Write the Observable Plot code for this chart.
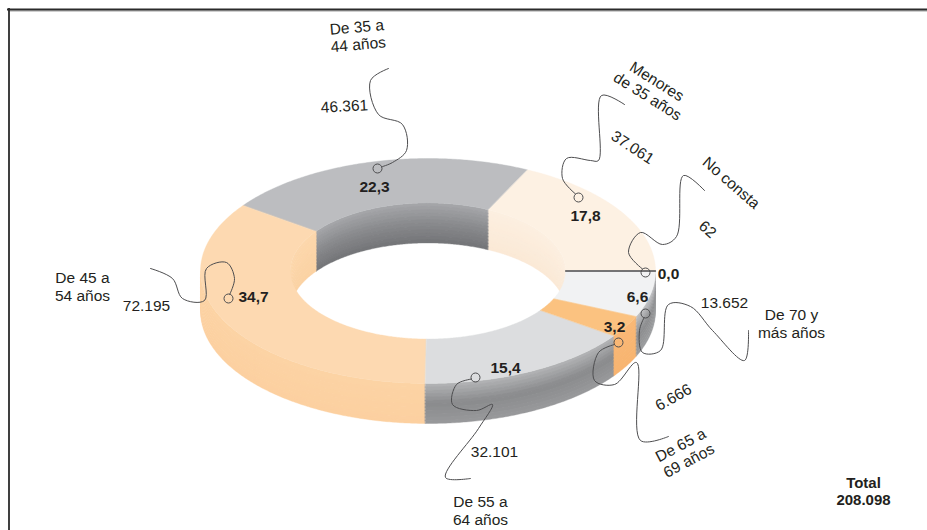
<!DOCTYPE html>
<html><head><meta charset="utf-8">
<script src="https://cdn.jsdelivr.net/npm/d3@7"></script>
<script src="https://cdn.jsdelivr.net/npm/@observablehq/plot@0.6"></script>
<style>body{margin:0;background:#fff}#chart{width:927px;height:530px}</style>
</head><body><div id="chart"></div>
<script>
// ---- data ----
const categories = ["No consta","Menores de 35 años","De 35 a 44 años","De 45 a 54 años","De 55 a 64 años","De 65 a 69 años","De 70 y más años"];
const nameLabels = ["No consta","Menores\nde 35 años","De 35 a\n44 años","De 45 a\n54 años","De 55 a\n64 años","De 65 a\n69 años","De 70 y\nmás años"];
const values = [62, 37061, 46361, 72195, 32101, 6666, 13652];
const totalTitle = "Total";

// ---- styles ----
const topFill   = ["#6d6e70","#fdf1e3","#bcbdc0","#fdd9b1","#dcdddf","#fbc280","#f1f2f3"];
const sideStops = [null, ["#fbe8d3","#fbe8d3"], ["#b8b9bb","#8a8b8d","#9a9b9d"], ["#fcd3a4","#fcd0a0"], ["#b3b4b6","#8a8b8d","#98999b"], ["#f9b876","#f8b470"], ["#c4c5c7","#8c8d8f","#9c9d9f"]];
const innerStops= [null, ["#fcefe0","#fbe9d6"], ["#a6a7aa","#8a8b8e","#737477"], ["#fcd7ac","#fbd2a3"], null, null, null];
const ink = "#231f20", leaderInk = "#4d4d4f";

// ---- layout (positions for annotations) ----
const geo = {cx:427.5, cy:270.5, rx:227.5, ry:112.5, inner:0.605, depth:40};
const layout = [
  {pct:[668,274], anchor:[645,272], path:[[628,252],[640,232],[662,244],[676,236],[683,175],[704,190]], val:[707,229,41], name:[731,182,41]},
  {pct:[585,216], anchor:[578,197], path:[[562,178],[566,158],[590,160],[598,160],[601,95],[624,104]], val:[632,147,33], name:[652,88,32]},
  {pct:[374,187], anchor:[377,168], path:[[392,162],[406,150],[402,124],[378,114],[370,80],[388,68]], val:[344,106,-3], name:[357,35,-5]},
  {pct:[253,297], anchor:[228,298], path:[[234,278],[226,262],[206,268],[204,300],[182,298],[172,278],[150,268]], val:[146,306,0], name:[82,286,0]},
  {pct:[505,368], anchor:[475,377], path:[[456,384],[452,404],[476,410],[492,404],[478,428],[445,477],[470,478]], val:[494,452,0], name:[480,510,0]},
  {pct:[614,327], anchor:[618,342], path:[[598,352],[594,380],[614,384],[636,362],[640,440],[668,436]], val:[673,397,-29], name:[684,452,-28]},
  {pct:[637,297], anchor:[645,313], path:[[639,330],[642,352],[660,350],[668,304],[690,306],[712,330],[744,360],[748,330]], val:[724,303,0], name:[791,323,0]}
];

// ---- geometry from values ----
const total = d3.sum(values);
let acc = 0;
const slices = values.map((v,i)=>{const a0 = acc/total*2*Math.PI; acc += v; return {i, a0, a1: acc/total*2*Math.PI};});
const pt = (t,r,dz)=>({x: geo.cx + r*geo.rx*Math.cos(t), y: geo.cy - r*geo.ry*Math.sin(t) + dz});
function arc(t0,t1,r,dz){const n=Math.max(2,Math.ceil(Math.abs(t1-t0)/0.01));return d3.range(n+1).map(k=>pt(t0+(t1-t0)*k/n,r,dz));}
function band(t0,t1,r,d0,d1){return [...arc(t0,t1,r,d0), ...arc(t1,t0,r,d1)];}

const polys = [];
const nb = 12;
function wall(t0,t1,r,stops){
  const interp = d3.piecewise(d3.interpolateRgb, stops);
  for(let k=0;k<nb;k++){
    const d0 = geo.depth*k/nb, d1 = Math.min(geo.depth, geo.depth*(k+1)/nb + 0.6);
    polys.push({pts: band(t0,t1,r,d0,d1), fill: interp((k+0.5)/nb)});
  }
}
// inner walls (back half)
slices.forEach(s=>{ if(!innerStops[s.i]) return; const t0=Math.max(s.a0,0), t1=Math.min(s.a1,Math.PI); if(t1>t0) wall(t0,t1,geo.inner,innerStops[s.i]); });
// outer sides (front half)
slices.forEach(s=>{ if(!sideStops[s.i]) return; const t0=Math.max(s.a0,Math.PI), t1=Math.min(s.a1,2*Math.PI); if(t1>t0) wall(t0,t1,1,sideStops[s.i]); });
// top faces
slices.forEach(s=>{ if(s.i===0) return; polys.push({pts:[...arc(s.a0,s.a1,1,0), ...arc(s.a1,s.a0,geo.inner,0)], fill: topFill[s.i]}); });

const polyMarks = polys.map(p=>Plot.line(p.pts,{x:"x",y:"y",fill:p.fill,stroke:p.fill,strokeWidth:0.4,curve:"linear-closed"}));

// "No consta" sliver as a line
const s0 = slices[0];
const sliver = [pt(s0.a0,geo.inner,0), pt(s0.a0,1,0)];

const fmtPct = v => (v/total*100).toFixed(1).replace(".",",");
const fmtNum = v => d3.format(",")(v).replace(/,/g,".");

const pctData = values.map((v,i)=>({x:layout[i].pct[0], y:layout[i].pct[1], t:fmtPct(v)}));
const valData = values.map((v,i)=>({x:layout[i].val[0], y:layout[i].val[1], r:layout[i].val[2], t:fmtNum(v)}));
const nameData = nameLabels.map((n,i)=>({x:layout[i].name[0], y:layout[i].name[1], r:layout[i].name[2], t:n}));
const anchors = layout.map(l=>({x:l.anchor[0], y:l.anchor[1]}));
const leaders = layout.flatMap((l,i)=>{
  const [ax,ay]=l.anchor, [vx,vy]=l.path[0];
  const d=Math.hypot(vx-ax,vy-ay);
  const start=[ax+(vx-ax)/d*4.5, ay+(vy-ay)/d*4.5];
  return [start, ...l.path].map(p=>({id:i, x:p[0], y:p[1]}));
});

const svg = Plot.plot({
  width: 927, height: 530, margin: 0,
  x: {type:"identity", axis:null}, y: {type:"identity", axis:null},
  style: {fontFamily: "'Liberation Sans', Arial, sans-serif", background:"#fff"},
  marks: [
    ...polyMarks,
    Plot.line(sliver,{x:"x",y:"y",stroke:"#4a4a4c",strokeWidth:1.3}),
    Plot.line(leaders,{x:"x",y:"y",z:"id",curve:"catmull-rom",stroke:leaderInk,strokeWidth:1}),
    Plot.dot(anchors,{x:"x",y:"y",r:4.5,stroke:leaderInk,strokeWidth:1,fill:"none"}),
    Plot.text(pctData,{x:"x",y:"y",text:"t",fontSize:15.5,fontWeight:"bold",fill:ink}),
    Plot.text(valData,{x:"x",y:"y",text:"t",rotate:"r",fontSize:15.5,fill:ink}),
    Plot.text(nameData,{x:"x",y:"y",text:"t",rotate:"r",fontSize:15.5,lineHeight:1.13,fill:ink}),
    Plot.text([{x:863,y:491,t:totalTitle+"\n"+fmtNum(total)}],{x:"x",y:"y",text:"t",fontSize:15,fontWeight:"bold",lineHeight:1.13,fill:ink}),
    Plot.ruleY([10.5],{x1:8,x2:927,stroke:"#a0a0a0",strokeWidth:1}),
    Plot.ruleY([9],{x1:7,x2:927,stroke:"#2b2b2b",strokeWidth:1.8}),
    Plot.ruleX([8.5],{y1:8,y2:530,stroke:"#2b2b2b",strokeWidth:1.8})
  ]
});
document.getElementById("chart").appendChild(svg);
</script>
</body></html>
